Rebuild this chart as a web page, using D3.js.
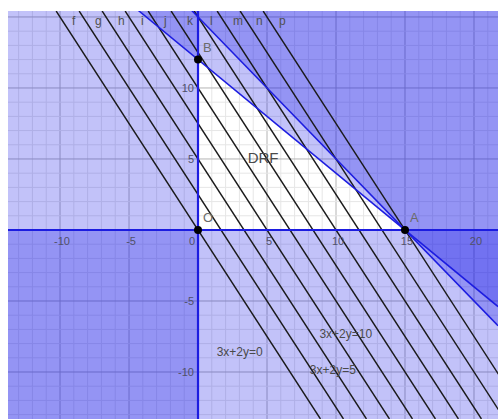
<!DOCTYPE html>
<html>
<head>
<meta charset="utf-8">
<script src="https://cdn.jsdelivr.net/npm/d3@7/dist/d3.min.js"></script>
<style>
  body { margin: 0; background: #fff; }
  text { font-family: "Liberation Sans", Arial, sans-serif; }
</style>
</head>
<body>
<div id="chart"></div>
<script>
// objective lines 3x + 2y = c
const levels = [0, 5, 10, 15, 20, 25, 30, 35, 40, 45]
const levelNames = ['f', 'g', 'h', 'i', 'j', 'k', 'l', 'm', 'n', 'p']

// shaded (infeasible) half planes: a*x + b*y >= c
const shadeA = [-1, 0, 4, 1]
const shadeB = [0, -1, 5, 1]
const shadeC = [0, 0, 60, 15]

// vertices
const pointNames = ['O', 'B', 'A']
const pointX = [0, 0, 15]
const pointY = [0, 12, 0]

const xTicks = [-10, -5, 0, 5, 10, 15, 20]
const yTicks = [-10, -5, 5, 10]

// free texts
const noteText = ['3x+2y=0', '3x+2y=10', '3x+2y=5', 'DRF']
const noteX = [1.35, 8.8, 8.1, 3.6]
const noteY = [-8.85, -7.6, -10.15, 4.75]

w = 498
h = 419

const x = d3.scaleLinear().domain([-13.77, 21.74]).range([8, w])
const y = d3.scaleLinear().domain([-13.31, 15.42]).range([h, 11])

const svg = d3.select('#chart').append('svg')
    .attr('width', w)
    .attr('height', h)

svg.append('defs').append('clipPath').attr('id', 'plot')
    .append('rect')
    .attr('x', x.range()[0]).attr('y', y.range()[1])
    .attr('width', x.range()[1] - x.range()[0])
    .attr('height', y.range()[0] - y.range()[1])

const g = svg.append('g').attr('clip-path', 'url(#plot)')

g.append('rect')
    .attr('x', x.range()[0]).attr('y', y.range()[1])
    .attr('width', x.range()[1] - x.range()[0])
    .attr('height', y.range()[0] - y.range()[1])
    .attr('fill', '#fff')

// grid
const [x0, x1] = x.domain()
const [y0, y1] = y.domain()
const gx = d3.range(Math.ceil(x0), Math.floor(x1) + 1)
const gy = d3.range(Math.ceil(y0), Math.floor(y1) + 1)

g.selectAll('.gx').data(gx).enter().append('line')
    .attr('x1', d => x(d)).attr('x2', d => x(d))
    .attr('y1', y.range()[0]).attr('y2', y.range()[1])
    .attr('stroke', d => d % 5 === 0 ? '#b4b4b4' : '#e6e6e6')
    .attr('stroke-width', 1)
g.selectAll('.gy').data(gy).enter().append('line')
    .attr('y1', d => y(d)).attr('y2', d => y(d))
    .attr('x1', x.range()[0]).attr('x2', x.range()[1])
    .attr('stroke', d => d % 5 === 0 ? '#b4b4b4' : '#e6e6e6')
    .attr('stroke-width', 1)

// clip the view rectangle to a half plane a*x+b*y >= c
function clipHalf(poly, a, b, c) {
    const out = []
    for (let i = 0; i < poly.length; i++) {
        const cur = poly[i]
        const prev = poly[(i + poly.length - 1) % poly.length]
        const fc = a * cur[0] + b * cur[1] - c
        const fp = a * prev[0] + b * prev[1] - c
        const cross = () => {
            const t = fp / (fp - fc)
            return [prev[0] + t * (cur[0] - prev[0]), prev[1] + t * (cur[1] - prev[1])]
        }
        if (fc >= 0) {
            if (fp < 0) out.push(cross())
            out.push(cur)
        } else if (fp >= 0) {
            out.push(cross())
        }
    }
    return out
}

const view = [[x0, y0], [x1, y0], [x1, y1], [x0, y1]]
const shades = shadeA.map((a, i) => clipHalf(view, a, shadeB[i], shadeC[i]))

g.selectAll('.shade').data(shades).enter().append('path')
    .attr('d', d => 'M' + d.map(p => x(p[0]) + ',' + y(p[1])).join('L') + 'Z')
    .attr('fill', 'rgb(10,10,230)')
    .attr('fill-opacity', 0.25)

// objective lines
g.selectAll('.level').data(levels).enter().append('line')
    .attr('x1', d => x((d - 2 * y1) / 3)).attr('y1', y(y1))
    .attr('x2', d => x((d - 2 * y0) / 3)).attr('y2', y(y0))
    .attr('stroke', '#1a1a1a')
    .attr('stroke-width', 1.4)

// constraint boundary lines
shadeA.forEach((a, i) => {
    const b = shadeB[i], c = shadeC[i]
    let p1, p2
    if (b === 0) { p1 = [c / a, y0]; p2 = [c / a, y1] }
    else { p1 = [x0, (c - a * x0) / b]; p2 = [x1, (c - a * x1) / b] }
    g.append('line')
        .attr('x1', x(p1[0])).attr('y1', y(p1[1]))
        .attr('x2', x(p2[0])).attr('y2', y(p2[1]))
        .attr('stroke', '#1c1ce0')
        .attr('stroke-width', i < 2 ? 2.2 : 1.5)
})

// axis tick labels
svg.selectAll('.xt').data(xTicks).enter().append('text')
    .attr('x', d => x(d) + (d === 0 ? -6 : 2))
    .attr('y', y(0) + 15)
    .attr('text-anchor', 'middle')
    .attr('font-size', 11)
    .attr('fill', '#505068')
    .text(d => d)
svg.selectAll('.yt').data(yTicks).enter().append('text')
    .attr('x', x(0) - 4)
    .attr('y', d => y(d) + 4)
    .attr('text-anchor', 'end')
    .attr('font-size', 11)
    .attr('fill', '#505068')
    .text(d => d)

// line names along the top
svg.selectAll('.lname').data(levels).enter().append('text')
    .attr('x', d => x((d - 2 * y.invert(20)) / 3) + 10)
    .attr('y', 25)
    .attr('font-size', 12)
    .attr('fill', '#505050')
    .text((d, i) => levelNames[i])

// free texts
svg.selectAll('.note').data(noteText).enter().append('text')
    .attr('x', (d, i) => x(noteX[i]))
    .attr('y', (d, i) => y(noteY[i]))
    .attr('font-size', (d, i) => i === 3 ? 15 : 12)
    .attr('fill', '#4a4a4a')
    .text(d => d)

// vertices
svg.selectAll('.pt').data(pointNames).enter().append('circle')
    .attr('cx', (d, i) => x(pointX[i]))
    .attr('cy', (d, i) => y(pointY[i]))
    .attr('r', 4)
    .attr('fill', '#000')
svg.selectAll('.ptl').data(pointNames).enter().append('text')
    .attr('x', (d, i) => x(pointX[i]) + 5)
    .attr('y', (d, i) => y(pointY[i]) - 8)
    .attr('font-size', 13)
    .attr('fill', '#6a6a6a')
    .text(d => d)
</script>
</body>
</html>
